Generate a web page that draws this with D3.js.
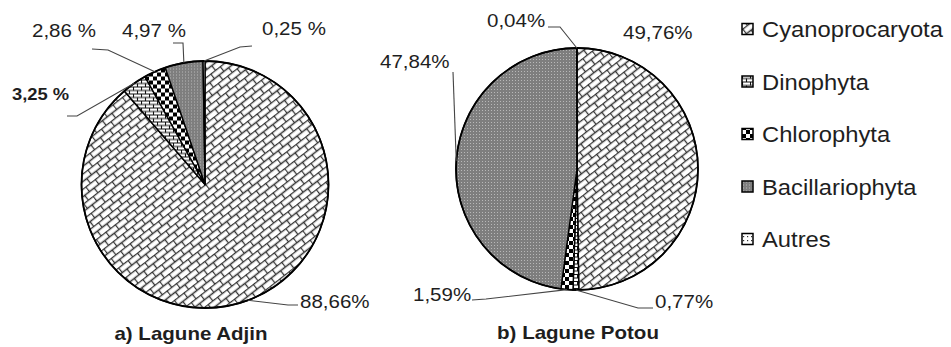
<!DOCTYPE html>
<html>
<head>
<meta charset="utf-8">
<script src="https://cdn.jsdelivr.net/npm/d3@7"></script>
<style>
  body { margin: 0; background: #fff; }
  text { font-family: "Liberation Sans", Arial, sans-serif; fill: #1e1e1e; }
</style>
</head>
<body>
<div id="chart-area"></div>
<script>
// data
var categories = ["Cyanoprocaryota", "Dinophyta", "Chlorophyta", "Bacillariophyta", "Autres"];
var adjinValues = [88.66, 3.25, 2.86, 4.97, 0.25];
var potouValues = [49.76, 0.77, 1.59, 47.84, 0.04];
var adjinLabels = ["88,66%", "3,25 %", "2,86 %", "4,97 %", "0,25 %"];
var potouLabels = ["49,76%", "0,77%", "1,59%", "47,84%", "0,04%"];
var titles = ["a) Lagune Adjin", "b) Lagune Potou"];

var width = 951, height = 347;
var stretch = 1.08;

var svg = d3.select("#chart-area").append("svg")
    .attr("width", width)
    .attr("height", height);

// fill patterns (one per category)
var defs = svg.append("defs");
var patterns = ["p-cyano", "p-dino", "p-chloro", "p-bacil", "p-autres"];

var pc = defs.append("pattern").attr("id", "p-cyano")
    .attr("patternUnits", "userSpaceOnUse")
    .attr("width", 12).attr("height", 12)
    .attr("patternTransform", "rotate(-38)");
pc.append("rect").attr("width", 12).attr("height", 12).attr("fill", "#fff");
pc.append("path")
    .attr("d", "M0,0.5H12M0,6.5H12M0.5,0.5V6.5M6.5,6.5V12.5")
    .attr("stroke", "#333").attr("stroke-width", 1.3).attr("fill", "none");

var pd = defs.append("pattern").attr("id", "p-dino")
    .attr("patternUnits", "userSpaceOnUse")
    .attr("width", 8).attr("height", 7);
pd.append("rect").attr("width", 8).attr("height", 7).attr("fill", "#fff");
pd.append("path")
    .attr("d", "M0,0.5H8M0,4H8M0.5,0.5V4M4.5,4V7")
    .attr("stroke", "#111").attr("stroke-width", 1.1).attr("fill", "none");

var pk = defs.append("pattern").attr("id", "p-chloro")
    .attr("patternUnits", "userSpaceOnUse")
    .attr("width", 8).attr("height", 8);
pk.append("rect").attr("width", 8).attr("height", 8).attr("fill", "#fff");
pk.append("rect").attr("width", 4).attr("height", 4).attr("fill", "#000");
pk.append("rect").attr("x", 4).attr("y", 4).attr("width", 4).attr("height", 4).attr("fill", "#000");

var pb = defs.append("pattern").attr("id", "p-bacil")
    .attr("patternUnits", "userSpaceOnUse")
    .attr("width", 3).attr("height", 3);
pb.append("rect").attr("width", 3).attr("height", 3).attr("fill", "#7e7e7e");
pb.append("rect").attr("x", 1).attr("y", 1).attr("width", 1).attr("height", 1).attr("fill", "#b8b8b8");

var pa = defs.append("pattern").attr("id", "p-autres")
    .attr("patternUnits", "userSpaceOnUse")
    .attr("width", 4).attr("height", 4);
pa.append("rect").attr("width", 4).attr("height", 4).attr("fill", "#fff");
pa.append("rect").attr("x", 1).attr("y", 1).attr("width", 1.2).attr("height", 1.2).attr("fill", "#333");

var color = d3.scaleOrdinal().domain(categories).range(patterns.map(function (p) { return "url(#" + p + ")"; }));

// label layout: text position (left x, baseline) and leader attach / elbow points
var adjinLayout = [
    { x: 300, y: 308, attach: [298, 305], elbow: [288, 305] },
    { x: 12, y: 100, attach: [67, 116], elbow: [77, 116], bold: true },
    { x: 32, y: 37, attach: [92, 49], elbow: [108, 50] },
    { x: 122, y: 37, attach: [173, 43], elbow: [183, 43] },
    { x: 262, y: 35, attach: [252, 46], elbow: [240, 47] }
];
var potouLayout = [
    { x: 623, y: 39 },
    { x: 655, y: 308, attach: [653, 308], elbow: [638, 308] },
    { x: 413, y: 301, attach: [472, 300], elbow: [486, 299] },
    { x: 380, y: 68, attach: [453, 72], elbow: [453, 72] },
    { x: 487, y: 27, attach: [548, 27], elbow: [560, 27] }
];

var pies = [
    { cx: 205, cy: 184.5, r: 123.5, values: adjinValues, labels: adjinLabels, layout: adjinLayout, title: titles[0], tx: 191, ty: 340 },
    { cx: 577, cy: 169, r: 121, values: potouValues, labels: potouLabels, layout: potouLayout, title: titles[1], tx: 578, ty: 339 }
];

var pie = d3.pie().sort(null).value(function (d) { return d; });

pies.forEach(function (p) {
    var arc = d3.arc().innerRadius(0).outerRadius(p.r);
    var arcs = pie(p.values);
    var g = svg.append("g").attr("transform", "translate(" + p.cx + "," + p.cy + ")");

    g.selectAll("path.slice").data(arcs).enter().append("path")
        .attr("class", "slice")
        .attr("d", arc)
        .attr("fill", function (d, i) { return color(categories[i]); })
        .attr("stroke", "#000")
        .attr("stroke-width", 1.4)
        .attr("stroke-linejoin", "round");

    g.append("circle").attr("r", p.r)
        .attr("fill", "none").attr("stroke", "#000").attr("stroke-width", 1.8);

    // leader lines
    arcs.forEach(function (d, i) {
        var L = p.layout[i];
        if (L.attach) {
            var mid = (d.startAngle + d.endAngle) / 2;
            var px = p.cx + Math.sin(mid) * p.r;
            var py = p.cy - Math.cos(mid) * p.r;
            svg.append("path")
                .attr("d", d3.line()([[px, py], L.elbow, L.attach]))
                .attr("fill", "none").attr("stroke", "#444").attr("stroke-width", 1.1);
        }
        svg.append("text")
            .attr("class", "lbl")
            .attr("x", L.x).attr("y", L.y)
            .attr("font-size", L.bold ? 17 : 19)
            .attr("font-weight", L.bold ? "bold" : "normal")
            .text(p.labels[i]);
    });

    svg.append("text")
        .attr("class", "lbl")
        .attr("x", p.tx).attr("y", p.ty)
        .attr("text-anchor", "middle")
        .attr("font-size", 19)
        .attr("font-weight", "bold")
        .text(p.title);
});

// legend
var legendY = d3.scalePoint().domain(categories).range([29, 239]);
var leg = svg.append("g").selectAll("g").data(categories).enter().append("g")
    .attr("transform", function (d) { return "translate(742," + legendY(d) + ")"; });
leg.append("rect")
    .attr("x", 0).attr("y", -5.5).attr("width", 11).attr("height", 11)
    .attr("fill", function (d) { return color(d); })
    .attr("stroke", "#000").attr("stroke-width", 1.5);
leg.append("text")
    .attr("class", "lbl")
    .attr("x", 20).attr("y", 8)
    .attr("font-size", 22)
    .text(function (d) { return d; });

// widen the text a bit, the source picture is horizontally stretched
svg.selectAll("text.lbl").each(function () {
    var w = this.getComputedTextLength();
    d3.select(this).attr("textLength", w * stretch).attr("lengthAdjust", "spacingAndGlyphs");
});
</script>
</body>
</html>
